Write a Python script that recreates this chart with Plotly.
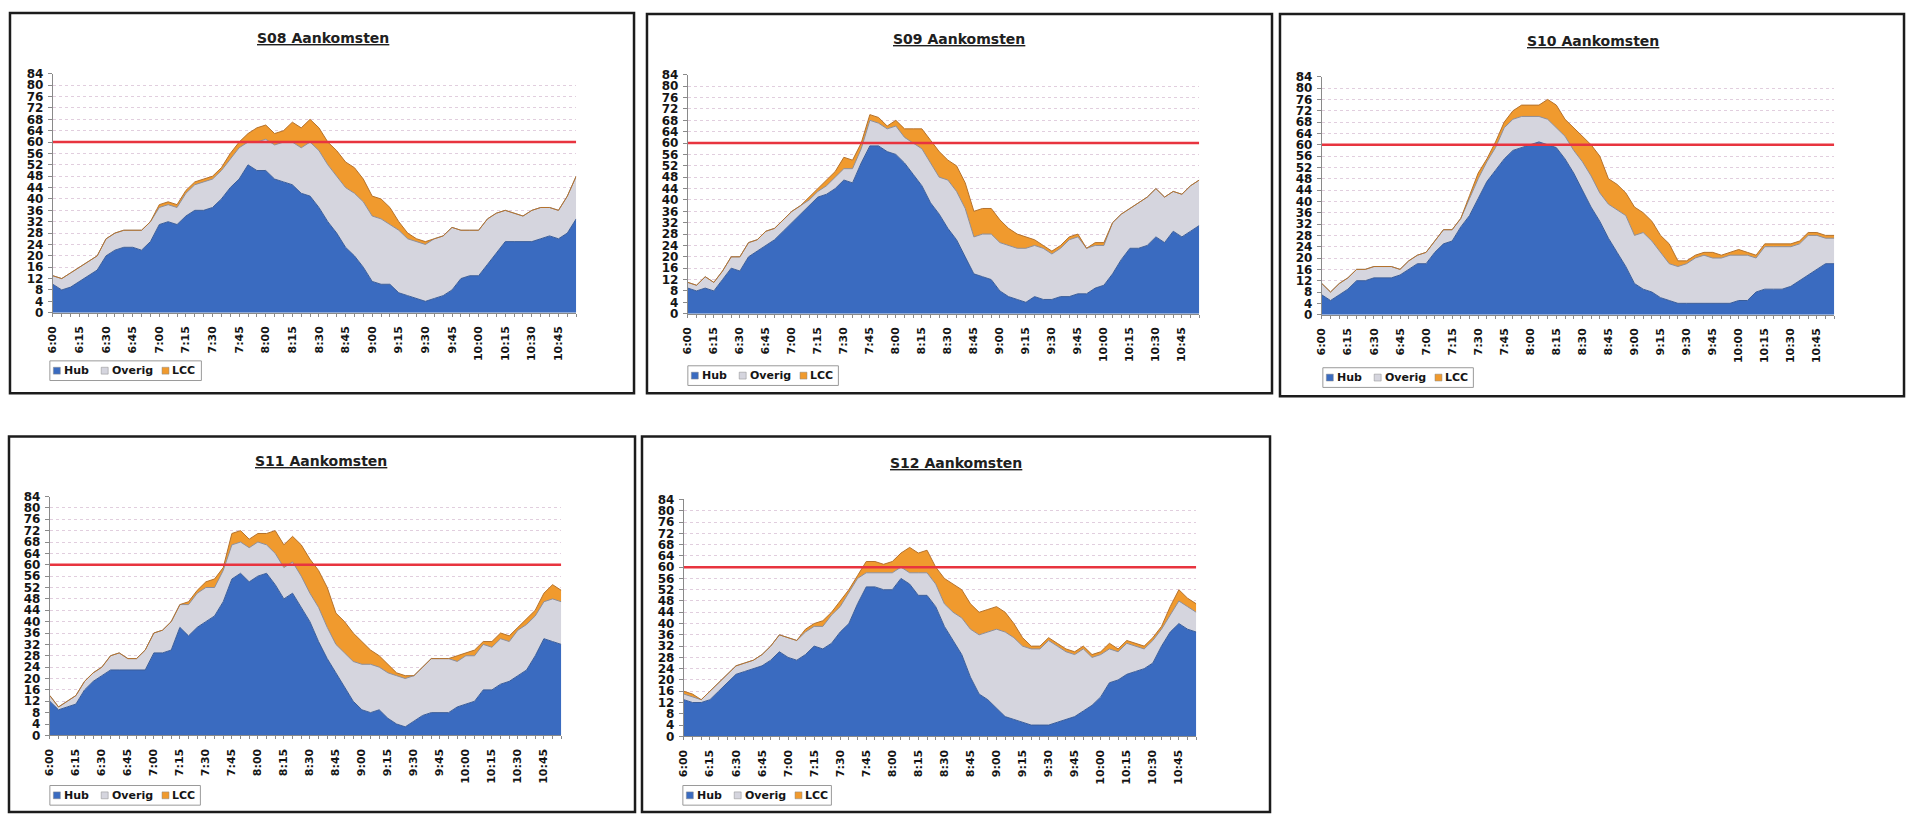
import plotly.graph_objects as go

W, H = 1909, 822

# ---------------------------------------------------------------- data
TIMES = [
    "6:00", "6:05", "6:10", "6:15", "6:20", "6:25", "6:30", "6:35", "6:40", "6:45", "6:50", "6:55",
    "7:00", "7:05", "7:10", "7:15", "7:20", "7:25", "7:30", "7:35", "7:40", "7:45", "7:50", "7:55",
    "8:00", "8:05", "8:10", "8:15", "8:20", "8:25", "8:30", "8:35", "8:40", "8:45", "8:50", "8:55",
    "9:00", "9:05", "9:10", "9:15", "9:20", "9:25", "9:30", "9:35", "9:40", "9:45", "9:50", "9:55",
    "10:00", "10:05", "10:10", "10:15", "10:20", "10:25", "10:30", "10:35", "10:40", "10:45", "10:50", "10:55",
]
TICK_LABELS = [
    "6:00", "6:15", "6:30", "6:45", "7:00", "7:15", "7:30", "7:45", "8:00", "8:15",
    "8:30", "8:45", "9:00", "9:15", "9:30", "9:45", "10:00", "10:15", "10:30", "10:45",
]
Y_TICKS = [0, 4, 8, 12, 16, 20, 24, 28, 32, 36, 40, 44, 48, 52, 56, 60, 64, 68, 72, 76, 80, 84]
CAPACITY = 60

S08_HUB = [10, 8, 9, 11, 13, 15, 20, 22, 23, 23, 22, 25, 31, 32, 31, 34, 36, 36, 37, 40,
           44, 47, 52, 50, 50, 47, 46, 45, 42, 41, 37, 32, 28, 23, 20, 16, 11, 10, 10, 7,
           6, 5, 4, 5, 6, 8, 12, 13, 13, 17, 21, 25, 25, 25, 25, 26, 27, 26, 28, 33]
S08_OVERIG = [3, 4, 5, 5, 5, 5, 6, 6, 6, 6, 7, 7, 6, 6, 6, 8, 9, 10, 10, 10,
              10, 11, 8, 10, 11, 12, 14, 15, 16, 19, 20, 20, 20, 21, 22, 23, 23, 23, 21, 22,
              20, 20, 20, 21, 21, 22, 17, 16, 16, 16, 14, 11, 10, 9, 11, 11, 10, 10, 13, 15]
S08_LCC = [0, 0, 0, 0, 0, 0, 0, 0, 0, 0, 0, 0, 1, 1, 1, 1, 1, 1, 1, 1,
           2, 2, 3, 5, 5, 4, 4, 7, 7, 8, 8, 8, 9, 9, 9, 8, 7, 7, 6, 3,
           2, 1, 1, 0, 0, 0, 0, 0, 0, 0, 0, 0, 0, 0, 0, 0, 0, 0, 0, 0]

S09_HUB = [9, 8, 9, 8, 12, 16, 15, 20, 22, 24, 26, 29, 32, 35, 38, 41, 42, 44, 47, 46,
           53, 59, 59, 57, 56, 53, 49, 45, 39, 35, 30, 26, 20, 14, 13, 12, 8, 6, 5, 4,
           6, 5, 5, 6, 6, 7, 7, 9, 10, 14, 19, 23, 23, 24, 27, 25, 29, 27, 29, 31]
S09_OVERIG = [2, 2, 4, 3, 3, 4, 5, 5, 4, 5, 4, 4, 4, 3, 2, 2, 3, 4, 4, 5,
              5, 9, 8, 8, 10, 9, 11, 13, 14, 13, 17, 17, 17, 13, 15, 16, 17, 18, 18, 19,
              18, 18, 16, 17, 20, 20, 16, 15, 14, 18, 16, 14, 16, 17, 17, 16, 14, 15, 16, 16]
S09_LCC = [0, 0, 0, 0, 0, 0, 0, 0, 0, 0, 0, 0, 0, 0, 1, 1, 2, 2, 4, 3,
           2, 2, 2, 1, 2, 3, 5, 7, 8, 9, 7, 9, 9, 9, 9, 9, 8, 6, 5, 4,
           2, 1, 1, 1, 1, 1, 0, 1, 1, 0, 0, 0, 0, 0, 0, 0, 0, 0, 0, 0]

S10_HUB = [7, 5, 7, 9, 12, 12, 13, 13, 13, 14, 16, 18, 18, 22, 25, 26, 31, 35, 41, 47,
           51, 55, 58, 59, 60, 61, 60, 59, 55, 50, 44, 38, 33, 27, 22, 17, 11, 9, 8, 6,
           5, 4, 4, 4, 4, 4, 4, 4, 5, 5, 8, 9, 9, 9, 10, 12, 14, 16, 18, 18]
S10_OVERIG = [4, 3, 4, 4, 4, 4, 4, 4, 4, 2, 3, 3, 4, 4, 5, 4, 3, 6, 7, 7,
              8, 11, 11, 11, 10, 9, 9, 7, 8, 8, 10, 11, 10, 12, 15, 18, 17, 20, 18, 16,
              13, 13, 14, 16, 17, 16, 16, 17, 16, 16, 12, 15, 15, 15, 14, 13, 14, 12, 9, 9]
S10_LCC = [0, 0, 0, 0, 0, 0, 0, 0, 0, 0, 0, 0, 0, 0, 0, 0, 0, 1, 2, 1,
           2, 2, 3, 4, 4, 4, 7, 8, 6, 8, 9, 11, 13, 9, 9, 8, 10, 7, 7, 6,
           7, 2, 1, 1, 1, 2, 1, 1, 2, 1, 1, 1, 1, 1, 1, 1, 1, 1, 1, 1]

S11_HUB = [12, 9, 10, 11, 16, 19, 21, 23, 23, 23, 23, 23, 29, 29, 30, 38, 35, 38, 40, 42,
           47, 55, 57, 54, 56, 57, 53, 48, 50, 45, 40, 33, 27, 22, 17, 12, 9, 8, 9, 6,
           4, 3, 5, 7, 8, 8, 8, 10, 11, 12, 16, 16, 18, 19, 21, 23, 28, 34, 33, 32]
S11_OVERIG = [2, 1, 2, 3, 3, 3, 3, 5, 6, 4, 4, 7, 7, 8, 10, 8, 11, 12, 12, 10,
              11, 12, 11, 12, 12, 10, 11, 11, 11, 11, 10, 12, 11, 10, 12, 14, 16, 17, 15, 16,
              17, 17, 16, 17, 19, 19, 19, 16, 17, 16, 16, 15, 16, 14, 16, 16, 14, 13, 15, 15]
S11_LCC = [0, 0, 0, 0, 0, 0, 0, 0, 0, 0, 0, 0, 0, 0, 0, 0, 1, 1, 2, 3,
           1, 4, 4, 3, 3, 4, 8, 8, 9, 11, 12, 13, 14, 11, 11, 10, 8, 5, 4, 3,
           1, 1, 0, 0, 0, 0, 0, 2, 1, 2, 1, 2, 2, 2, 1, 2, 2, 3, 5, 4]

S12_HUB = [13, 12, 12, 13, 16, 19, 22, 23, 24, 25, 27, 30, 28, 27, 29, 32, 31, 33, 37, 40,
           47, 53, 53, 52, 52, 56, 54, 50, 50, 46, 39, 34, 29, 21, 15, 13, 10, 7, 6, 5,
           4, 4, 4, 5, 6, 7, 9, 11, 14, 19, 20, 22, 23, 24, 26, 32, 37, 40, 38, 37]
S12_OVERIG = [2, 2, 1, 3, 3, 3, 3, 3, 3, 4, 5, 6, 7, 7, 8, 7, 8, 10, 9, 11,
              9, 5, 5, 6, 6, 4, 4, 8, 8, 8, 8, 10, 13, 17, 21, 24, 28, 30, 29, 27,
              27, 27, 30, 27, 24, 22, 22, 17, 15, 12, 10, 11, 9, 7, 8, 6, 6, 8, 8, 7]
S12_LCC = [1, 1, 0, 0, 0, 0, 0, 0, 0, 0, 0, 0, 0, 0, 1, 1, 2, 1, 2, 1,
           1, 4, 4, 3, 4, 5, 9, 7, 8, 6, 9, 10, 10, 9, 8, 8, 8, 7, 5, 3,
           1, 1, 1, 1, 1, 1, 1, 1, 1, 2, 1, 1, 1, 1, 1, 1, 3, 4, 3, 3]

SERIES_NAMES = ["Hub", "Overig", "LCC"]

PANELS = [
    ("S08 Aankomsten", (S08_HUB, S08_OVERIG, S08_LCC)),
    ("S09 Aankomsten", (S09_HUB, S09_OVERIG, S09_LCC)),
    ("S10 Aankomsten", (S10_HUB, S10_OVERIG, S10_LCC)),
    ("S11 Aankomsten", (S11_HUB, S11_OVERIG, S11_LCC)),
    ("S12 Aankomsten", (S12_HUB, S12_OVERIG, S12_LCC)),
]

# ---------------------------------------------------------------- styling
FONT = "DejaVu Sans"
FILL_COLORS = ["#3a6bc0", "#d5d5de", "#f09a2e"]
EDGE_COLORS = ["#3a5d99", "#8e8e98", "#b5722c"]
CAP_COLOR = "#e8343f"
GRID_COLOR = "rgba(200,165,195,0.55)"
AXIS_COLOR = "#8a8a8a"
TEXT_COLOR = "#151515"

# pixel geometry of each panel: plot area (l, t, r, b), outer frame,
# title centre and legend box
BOXES = [
    dict(plot=(47, 68, 572, 311), frame=(4, 6, 630, 393), title=(318, 32), legend=(44, 360, 196, 380)),
    dict(plot=(684, 69, 1197, 312), frame=(643, 7, 1270, 393), title=(956, 33), legend=(684, 365, 835, 385)),
    dict(plot=(1320, 71, 1834, 313), frame=(1278, 7, 1904, 396), title=(1592, 35), legend=(1321, 367, 1472, 387)),
    dict(plot=(44, 498, 557, 741), frame=(3, 437, 631, 819), title=(316, 462), legend=(44, 792, 195, 812)),
    dict(plot=(680, 501, 1194, 742), frame=(638, 437, 1268, 819), title=(953, 464), legend=(679, 792, 828, 812)),
]
LEGEND_SWATCH_OFFSETS = [7, 55, 116]


def px_x(v):
    return v / W


def px_y(v):
    return 1 - v / H


fig = go.Figure()
shapes = []
annotations = []
layout_axes = {}

tick_text = [t if t in TICK_LABELS else "" for t in TIMES]

for n, ((title, series), box) in enumerate(zip(PANELS, BOXES), start=1):
    sfx = "" if n == 1 else str(n)
    xa, ya = "x" + sfx, "y" + sfx

    for name, vals, fill, edge in zip(SERIES_NAMES, series, FILL_COLORS, EDGE_COLORS):
        fig.add_trace(go.Scatter(
            x=TIMES, y=vals, name=name, mode="lines",
            stackgroup="stack" + str(n), fillcolor=fill,
            line=dict(color=edge, width=1), xaxis=xa, yaxis=ya,
            showlegend=False, hoverinfo="x+y+name",
        ))
    # capacity reference line
    fig.add_trace(go.Scatter(
        x=TIMES, y=[CAPACITY] * len(TIMES), mode="lines",
        line=dict(color=CAP_COLOR, width=2.5), xaxis=xa, yaxis=ya,
        showlegend=False, hoverinfo="skip",
    ))

    l, t, r, b = box["plot"]
    layout_axes["xaxis" + sfx] = dict(
        domain=[px_x(l), px_x(r)], anchor=ya, type="category",
        range=[0, len(TIMES) - 1], tickmode="array",
        tickvals=TIMES, ticktext=tick_text, tickangle=-90,
        tickfont=dict(family=FONT, size=11, color=TEXT_COLOR, weight="bold"),
        ticks="outside", ticklen=3, tickcolor=AXIS_COLOR, ticklabelstandoff=5,
        showline=True, linecolor=AXIS_COLOR, linewidth=1,
        showgrid=False, zeroline=False, fixedrange=True,
    )
    layout_axes["yaxis" + sfx] = dict(
        domain=[px_y(b), px_y(t)], anchor=xa, range=[0, Y_TICKS[-1]],
        tickmode="array", tickvals=Y_TICKS,
        tickfont=dict(family=FONT, size=12, color=TEXT_COLOR, weight="bold"),
        ticks="outside", ticklen=4, tickcolor=AXIS_COLOR, ticklabelstandoff=2,
        showline=True, linecolor=AXIS_COLOR, linewidth=1,
        showgrid=True, gridcolor=GRID_COLOR, griddash="dot", gridwidth=1,
        zeroline=False, fixedrange=True,
    )

    # outer frame of the chart
    fl, ft, fr, fb = box["frame"]
    shapes.append(dict(type="rect", xref="paper", yref="paper",
                       x0=px_x(fl), x1=px_x(fr), y0=px_y(fb), y1=px_y(ft),
                       line=dict(color="#1c1c1c", width=2.5), layer="above"))

    # title
    tx, ty = box["title"]
    annotations.append(dict(
        text="<b>" + title + "</b>", xref="paper", yref="paper",
        x=px_x(tx), y=px_y(ty), xanchor="center", yanchor="middle",
        showarrow=False,
        font=dict(family=FONT, size=14, color="#202020", lineposition="under"),
    ))

    # legend key
    gl, gt, gr, gb = box["legend"]
    shapes.append(dict(type="rect", xref="paper", yref="paper",
                       x0=px_x(gl), x1=px_x(gr), y0=px_y(gb), y1=px_y(gt),
                       line=dict(color="#9a9a9a", width=1), fillcolor="white"))
    cy = (gt + gb) / 2
    for name, fill, off in zip(SERIES_NAMES, FILL_COLORS, LEGEND_SWATCH_OFFSETS):
        sx = gl + off
        shapes.append(dict(type="rect", xref="paper", yref="paper",
                           x0=px_x(sx - 3.5), x1=px_x(sx + 3.5),
                           y0=px_y(cy + 3.5), y1=px_y(cy - 3.5),
                           line=dict(color="#8a8a8a", width=0.5), fillcolor=fill))
        annotations.append(dict(
            text="<b>" + name + "</b>", xref="paper", yref="paper",
            x=px_x(sx + 5), y=px_y(cy), xanchor="left", yanchor="middle",
            showarrow=False,
            font=dict(family=FONT, size=11, color=TEXT_COLOR),
        ))

fig.update_layout(
    width=W, height=H, autosize=False,
    margin=dict(l=0, r=0, t=0, b=0, pad=0),
    paper_bgcolor="white", plot_bgcolor="white",
    showlegend=False,
    shapes=shapes, annotations=annotations,
    font=dict(family=FONT, color=TEXT_COLOR),
    **layout_axes,
)

fig.write_html("out.html", config=dict(displayModeBar=False))
